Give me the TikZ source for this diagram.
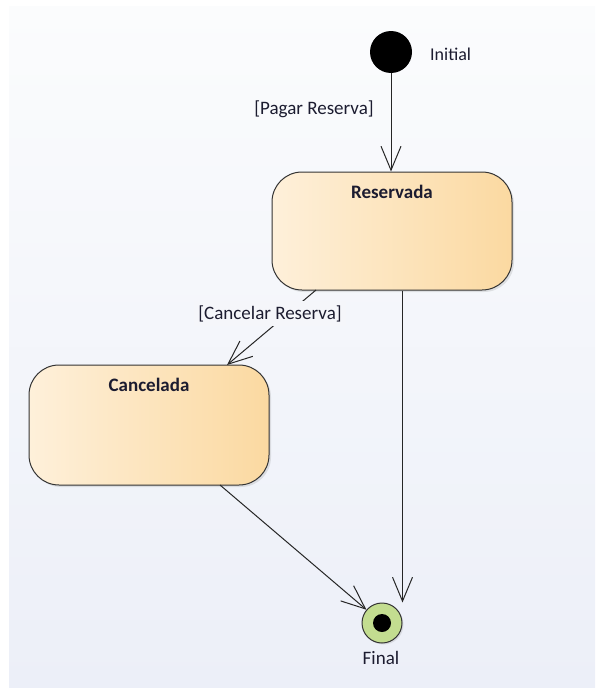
\documentclass[tikz,border=0pt]{standalone}
\usepackage{fontspec}
\setmainfont{Carlito}
\usetikzlibrary{arrows.meta,shadows}

\definecolor{boxleft}{HTML}{FEF0DA}
\definecolor{boxright}{HTML}{FBD9A1}
\definecolor{bgtop}{HTML}{FBFCFD}
\definecolor{bgbottom}{HTML}{ECEFF8}
\definecolor{bgmid}{HTML}{F5F6FA}
\definecolor{finalgreen}{HTML}{C3DD90}
\definecolor{inktext}{HTML}{1C1C30}

\begin{document}
\begin{tikzpicture}[x=1pt,y=-1pt,
  statebox/.style={draw=black!80,line width=1pt,rounded corners=30pt,
    left color=boxleft,right color=boxright,minimum width=240pt,inner sep=0pt,
    drop shadow={opacity=0.2,shadow xshift=2pt,shadow yshift=-2pt}},
  statename/.style={anchor=base,inner sep=0pt,text=inktext,font=\fontsize{19.0}{22.8}\selectfont \bfseries},
  guard/.style={anchor=base,inner sep=0pt,text=inktext,font=\fontsize{19.0}{22.8}\selectfont},
  trans/.style={draw=black!85,line width=1pt,-{Straight Barb[length=24pt,width=20pt,line width=1pt]}}]
\path[use as bounding box] (0,0) rectangle (595.0,688.0);
\shade[top color=bgtop,bottom color=bgbottom] (9,6) rectangle (595,688);
% states
\node[circle,fill=black,minimum size=42pt,inner sep=0pt] (init) at (391,52) {};
\node[anchor=base west,inner sep=0pt,text=inktext,font=\fontsize{18.0}{21.6}\selectfont] (init-lbl) at (430,60) {Initial};
\node[statebox,minimum height=118pt] (res) at (392,231) {};
\node[statename] (res-title) at (392,198) {Reservada};
\node[statebox,minimum height=120pt] (can) at (149,425) {};
\node[statename] (can-title) at (149,391) {Cancelada};
\node[circle,draw=black!80,line width=1pt,fill=finalgreen,minimum size=40pt,inner sep=0pt,
  drop shadow={opacity=0.2,shadow xshift=1.5pt,shadow yshift=-1.5pt}] (fin) at (382,623) {};
\node[circle,fill=black,minimum size=18pt,inner sep=0pt] (fin-dot) at (fin) {};
\node[guard] (fin-lbl) at (381,664) {Final};
% transitions
\coordinate (res-out) at (316,290);
\coordinate (can-in) at (227,365);
\coordinate (can-out) at (220,485);
\draw[trans] (init) -- (init |- res.north);
\node[guard] (pagar) at (314,114) {[Pagar Reserva]};
\draw[trans] (res-out) -- (can-in);
\node[guard,fill=bgmid,inner sep=4pt] (cancelar) at (270,319) {[Cancelar Reserva]};
\draw[trans] (res.south -| fin.east) -- (fin.north -| fin.east);
\draw[trans] (can-out) -- (fin);
\end{tikzpicture}
\end{document}
